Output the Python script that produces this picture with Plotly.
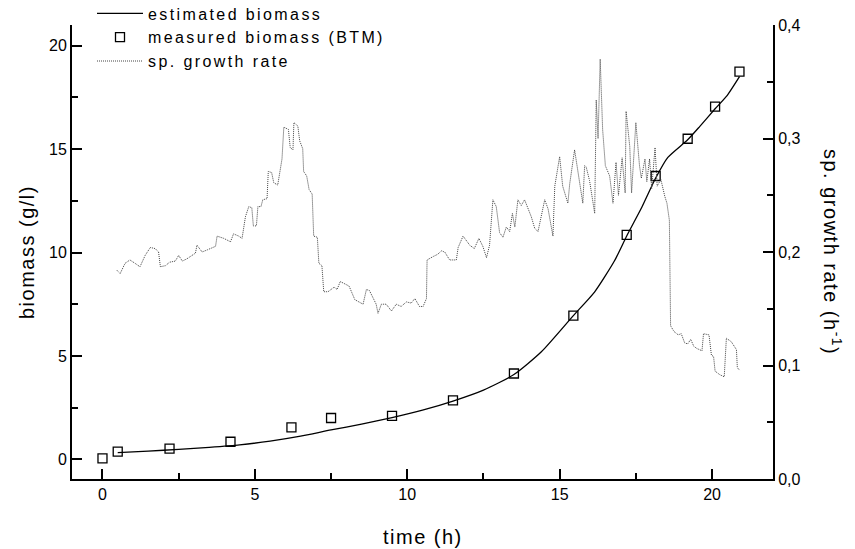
import plotly.graph_objects as go

# measured biomass (BTM), g/l
meas_t = [0.0, 0.5, 2.2, 4.2, 6.2, 7.5, 9.5, 11.5, 13.5, 15.45, 17.2, 18.15, 19.2, 20.1, 20.9]
meas_x = [0.05, 0.37, 0.52, 0.85, 1.55, 2.0, 2.1, 2.85, 4.15, 6.95, 10.85, 13.7, 15.5, 17.05, 18.75]

# estimated biomass, g/l
est_t = [0.5, 1.5, 2.5, 3.5, 4.5, 5.5, 6.5, 7.5, 8.5, 9.5, 10.5, 11.5, 12.5, 13.5, 14.4,
         15.45, 16.15, 16.8, 17.2, 17.7, 18.15, 18.55, 19.2, 19.6, 20.1, 20.5, 20.9]
est_x = [0.33, 0.4, 0.48, 0.58, 0.7, 0.88, 1.12, 1.42, 1.7, 2.02, 2.38, 2.82, 3.35, 4.1, 5.2,
         6.95, 8.1, 9.6, 10.8, 12.2, 13.6, 14.6, 15.45, 16.1, 16.95, 17.6, 18.5]

# specific growth rate, 1/h
mu_t = [0.47, 0.58, 0.74, 0.90, 1.07, 1.23, 1.40, 1.57, 1.73, 1.84, 1.90, 2.07, 2.20, 2.39, 2.50,
        2.62, 2.77, 3.05, 3.10, 3.27, 3.45, 3.71, 3.76, 3.98, 4.20, 4.30, 4.47, 4.58, 4.69, 4.80,
        4.90, 4.95, 5.05, 5.10, 5.20, 5.26, 5.40, 5.44, 5.55, 5.62, 5.75, 5.89, 5.95, 6.10, 6.16,
        6.25, 6.28, 6.41, 6.47, 6.57, 6.60, 6.70, 6.78, 6.88, 6.93, 7.05, 7.10, 7.20, 7.26, 7.40,
        7.60, 7.70, 7.80, 7.95, 8.09, 8.28, 8.45, 8.55, 8.66, 8.76, 8.98, 9.04, 9.15, 9.31, 9.48,
        9.64, 9.80, 9.97, 10.13, 10.25, 10.40, 10.52, 10.63, 10.65, 10.85, 11.00, 11.12, 11.23, 11.39, 11.61,
        11.67, 11.83, 12.05, 12.20, 12.35, 12.48, 12.60, 12.70, 12.81, 12.92, 13.03, 13.14, 13.25, 13.36, 13.45,
        13.53, 13.63, 13.74, 13.85, 13.96, 14.07, 14.18, 14.29, 14.51, 14.62, 14.78, 14.84, 15.00, 15.10, 15.27,
        15.33, 15.49, 15.60, 15.66, 15.76, 15.82, 15.87, 15.98, 16.15, 16.20, 16.26, 16.33, 16.41, 16.50, 16.64,
        16.75, 16.85, 16.93, 17.05, 17.15, 17.18, 17.30, 17.36, 17.50, 17.62, 17.68, 17.80, 17.86, 17.95, 18.02,
        18.13, 18.20, 18.32, 18.45, 18.52, 18.60, 18.64, 18.75, 18.89, 18.99, 19.10, 19.20, 19.30, 19.40, 19.50,
        19.67, 19.72, 19.90, 19.98, 20.05, 20.10, 20.25, 20.40, 20.47, 20.63, 20.80, 20.83, 20.90]
mu_v = [0.184, 0.181, 0.190, 0.193, 0.190, 0.187, 0.197, 0.204, 0.203, 0.200, 0.187, 0.188, 0.191, 0.192, 0.197,
        0.192, 0.194, 0.199, 0.206, 0.200, 0.202, 0.205, 0.214, 0.212, 0.209, 0.216, 0.214, 0.212, 0.231, 0.240,
        0.239, 0.223, 0.223, 0.240, 0.240, 0.246, 0.247, 0.271, 0.270, 0.261, 0.259, 0.282, 0.310, 0.308, 0.292,
        0.290, 0.314, 0.311, 0.298, 0.291, 0.271, 0.267, 0.255, 0.251, 0.214, 0.213, 0.190, 0.188, 0.165, 0.165,
        0.169, 0.167, 0.174, 0.172, 0.170, 0.158, 0.155, 0.154, 0.167, 0.166, 0.154, 0.146, 0.154, 0.154, 0.148,
        0.154, 0.152, 0.156, 0.155, 0.159, 0.152, 0.152, 0.159, 0.193, 0.196, 0.198, 0.201, 0.200, 0.193, 0.193,
        0.204, 0.214, 0.206, 0.203, 0.212, 0.205, 0.195, 0.206, 0.246, 0.240, 0.217, 0.213, 0.222, 0.218, 0.234,
        0.222, 0.246, 0.241, 0.246, 0.238, 0.231, 0.221, 0.218, 0.246, 0.238, 0.214, 0.258, 0.284, 0.258, 0.243,
        0.260, 0.290, 0.272, 0.261, 0.243, 0.276, 0.275, 0.263, 0.234, 0.334, 0.300, 0.370, 0.308, 0.276, 0.267,
        0.243, 0.279, 0.250, 0.283, 0.252, 0.324, 0.293, 0.252, 0.314, 0.276, 0.265, 0.282, 0.262, 0.282, 0.256,
        0.292, 0.258, 0.264, 0.249, 0.243, 0.228, 0.135, 0.130, 0.127, 0.128, 0.120, 0.119, 0.123, 0.117, 0.115,
        0.113, 0.128, 0.127, 0.109, 0.108, 0.095, 0.092, 0.090, 0.124, 0.121, 0.114, 0.098, 0.096]

FONT = "Liberation Sans, Arial, sans-serif"
PLOT_L, PLOT_R, PLOT_T, PLOT_B = 72, 82, 25, 70
PLOT_W = 855 - PLOT_L - PLOT_R
PLOT_H = 549 - PLOT_T - PLOT_B


def spaced(text, px=1.5):
    return f'<span style="letter-spacing:{px}px">{text}</span>'


fig = go.Figure()

fig.add_trace(go.Scatter(
    x=est_t, y=est_x, mode="lines", name=spaced("estimated biomass", 2.4), legendgroup="a",
    line=dict(color="black", width=1.3, shape="spline", smoothing=0.6),
))
fig.add_trace(go.Scatter(
    x=meas_t, y=meas_x, mode="markers", name=spaced("measured biomass (BTM)", 2.4), legendgroup="b",
    marker=dict(symbol="square-open", size=9, color="black", line=dict(width=1.3)),
))
fig.add_trace(go.Scatter(
    x=mu_t, y=mu_v, mode="lines", name=spaced("sp. growth rate", 2.4), yaxis="y2", legendgroup="c",
    line=dict(color="#444", width=1, dash="1px,1px"),
))

axis_common = dict(
    showline=True, linecolor="black", linewidth=2, showgrid=False, zeroline=False,
    ticks="inside", ticklen=10, tickwidth=2, tickcolor="black",
    tickfont=dict(family=FONT, size=16, color="black"),
)
minor_common = dict(ticks="inside", ticklen=6, tickwidth=2, tickcolor="black")

fig.update_layout(
    width=855, height=549,
    margin=dict(l=PLOT_L, r=PLOT_R, t=PLOT_T, b=PLOT_B, autoexpand=False),
    paper_bgcolor="white", plot_bgcolor="white",
    separators=", ",
    font=dict(family=FONT, color="black"),
    xaxis=dict(range=[-1, 22], tickvals=[0, 5, 10, 15, 20],
               minor=dict(dtick=2.5, tick0=0, **minor_common), **axis_common),
    yaxis=dict(range=[-0.95, 21], tickvals=[0, 5, 10, 15, 20],
               minor=dict(dtick=2.5, tick0=0, **minor_common), **axis_common),
    yaxis2=dict(range=[0, 0.4], overlaying="y", side="right", dtick=0.1, tickformat=".1f",
                minor=dict(dtick=0.05, tick0=0, **minor_common), **axis_common),
    showlegend=True,
    legend=dict(
        xref="paper", yref="paper", x=(92 - PLOT_L) / PLOT_W, y=1 + (PLOT_T + 3.5) / PLOT_H,
        xanchor="left", yanchor="top",
        font=dict(family=FONT, size=16, color="black"),
        bgcolor="rgba(0,0,0,0)", itemwidth=46, traceorder="normal", tracegroupgap=2,
    ),
    annotations=[
        dict(text=spaced("time (h)"), xref="paper", yref="paper", x=0.5, y=-58 / PLOT_H,
             xanchor="center", yanchor="middle", showarrow=False,
             font=dict(family=FONT, size=20, color="black")),
        dict(text=spaced("biomass (g/l)"), xref="paper", yref="paper", x=-45 / PLOT_W, y=0.5,
             xanchor="center", yanchor="middle", textangle=-90, showarrow=False,
             font=dict(family=FONT, size=20, color="black")),
        dict(text=spaced("sp. growth rate (h<sup>-1</sup>)"), xref="paper", yref="paper",
             x=1 + 60 / PLOT_W, y=0.5, xanchor="center", yanchor="middle", textangle=90,
             showarrow=False, font=dict(family=FONT, size=20, color="black")),
    ],
)

fig.write_html("out.html")
